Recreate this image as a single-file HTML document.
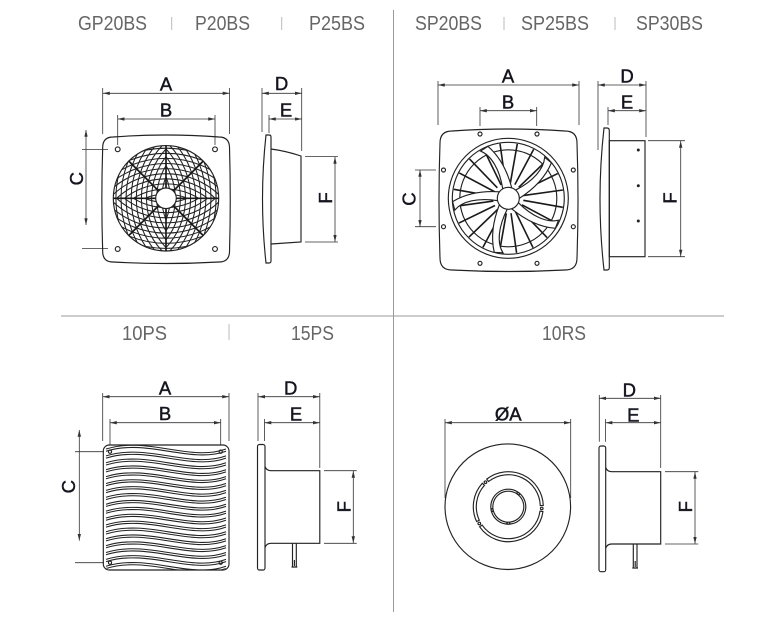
<!DOCTYPE html>
<html><head><meta charset="utf-8"><style>
html,body{margin:0;padding:0;background:#fff;}
svg{display:block;}
.h{font-family:"Liberation Sans",sans-serif;font-size:20px;fill:#666;text-anchor:middle;}
.l{font-family:"Liberation Sans",sans-serif;font-size:18.5px;fill:#15151f;stroke:#15151f;stroke-width:0.45;text-anchor:middle;}
.d{stroke:#333;stroke-width:0.8;fill:none;marker-start:url(#a);marker-end:url(#a);}
.e{stroke:#333;stroke-width:0.8;fill:none;}
.s{stroke:#222;stroke-width:1.15;fill:none;}
.w{stroke:#222;stroke-width:1.15;fill:#fff;}
.g{stroke:#222;stroke-width:1.05;fill:none;}
</style></head><body>
<svg width="777" height="624" viewBox="0 0 777 624" xmlns="http://www.w3.org/2000/svg">
<defs>
<marker id="a" viewBox="0 0 8 4" refX="8" refY="2" markerWidth="7" markerHeight="3.4" markerUnits="userSpaceOnUse" orient="auto-start-reverse"><path d="M0,0L8,2L0,4z" fill="#333"/></marker>
<clipPath id="cr"><path d="M166,145.6 A52.7 52.7 0 0 1 166,251 Z"/></clipPath>
<clipPath id="cl"><path d="M166,251 A52.7 52.7 0 0 1 166,145.6 Z"/></clipPath>
<clipPath id="ct"><path d="M113.3,198.3 A52.7 52.7 0 0 1 218.7,198.3 Z"/></clipPath>
<clipPath id="cb"><path d="M218.7,198.3 A52.7 52.7 0 0 1 113.3,198.3 Z"/></clipPath>
<clipPath id="pp"><rect x="104" y="445.5" width="124.5" height="124" rx="6"/></clipPath>
</defs>

<!-- dividers -->
<line x1="393.5" y1="10" x2="393.5" y2="612" stroke="#9a9a9a" stroke-width="1"/>
<line x1="61" y1="316" x2="724" y2="316" stroke="#9a9a9a" stroke-width="1"/>
<g stroke="#bbb" stroke-width="1">
<line x1="171.7" y1="17" x2="171.7" y2="30"/>
<line x1="281.7" y1="17" x2="281.7" y2="30"/>
<line x1="504" y1="17" x2="504" y2="30"/>
<line x1="615" y1="17" x2="615" y2="30"/>
<line x1="229" y1="324" x2="229" y2="340"/>
</g>

<!-- headers -->
<text class="h" x="112.5" y="30" textLength="69" lengthAdjust="spacingAndGlyphs">GP20BS</text>
<text class="h" x="222.5" y="30" textLength="55" lengthAdjust="spacingAndGlyphs">P20BS</text>
<text class="h" x="337" y="30" textLength="56" lengthAdjust="spacingAndGlyphs">P25BS</text>
<text class="h" x="448.5" y="30" textLength="67" lengthAdjust="spacingAndGlyphs">SP20BS</text>
<text class="h" x="555" y="30" textLength="68" lengthAdjust="spacingAndGlyphs">SP25BS</text>
<text class="h" x="669.5" y="30" textLength="67" lengthAdjust="spacingAndGlyphs">SP30BS</text>
<text class="h" x="144.5" y="340" textLength="45" lengthAdjust="spacingAndGlyphs">10PS</text>
<text class="h" x="312.5" y="340" textLength="43" lengthAdjust="spacingAndGlyphs">15PS</text>
<text class="h" x="564" y="340" textLength="44" lengthAdjust="spacingAndGlyphs">10RS</text>

<!-- ========== GP20BS ========== -->
<text class="l" x="166" y="90.7">A</text>
<line class="d" x1="103" y1="93.3" x2="229.5" y2="93.3"/>
<line class="e" x1="102.7" y1="88" x2="102.7" y2="134"/>
<line class="e" x1="229.5" y1="88" x2="229.5" y2="134"/>
<text class="l" x="166" y="116.7">B</text>
<line class="d" x1="117.7" y1="119" x2="215" y2="119"/>
<line class="e" x1="117.7" y1="115" x2="117.7" y2="145"/>
<line class="e" x1="215" y1="115" x2="215" y2="145"/>
<line class="d" x1="86" y1="130" x2="86" y2="225"/>
<line class="e" x1="82" y1="149.5" x2="108" y2="149.5"/>
<line class="e" x1="82" y1="248.5" x2="108" y2="248.5"/>
<text class="l" transform="translate(76.7,178.7) rotate(-90)" y="6.5">C</text>

<path class="s" d="M113,137 Q166,133 219,137 Q229,137 229.5,147 Q231,200 229.5,252 Q229,262 219,262 Q166,265 113,262 Q103,262 102.7,252 Q101,200 102.7,147 Q103,137 113,137 Z"/>
<g class="s" stroke-width="0.9">
<circle cx="117.7" cy="149.3" r="2.4"/><circle cx="215" cy="149.3" r="2.4"/>
<circle cx="117.7" cy="249" r="2.4"/><circle cx="215" cy="249" r="2.4"/>
</g>
<circle cx="166" cy="198.3" r="52.7" class="s"/>
<g class="g" clip-path="url(#cr)">
<circle cx="113.3" cy="198.3" r="56.9"/><circle cx="113.3" cy="198.3" r="62"/><circle cx="113.3" cy="198.3" r="67.1"/><circle cx="113.3" cy="198.3" r="72.2"/><circle cx="113.3" cy="198.3" r="77.3"/><circle cx="113.3" cy="198.3" r="82.4"/><circle cx="113.3" cy="198.3" r="87.5"/><circle cx="113.3" cy="198.3" r="92.6"/><circle cx="113.3" cy="198.3" r="97.7"/><circle cx="113.3" cy="198.3" r="102.8"/>
</g>
<g class="g" clip-path="url(#cl)">
<circle cx="218.7" cy="198.3" r="56.9"/><circle cx="218.7" cy="198.3" r="62"/><circle cx="218.7" cy="198.3" r="67.1"/><circle cx="218.7" cy="198.3" r="72.2"/><circle cx="218.7" cy="198.3" r="77.3"/><circle cx="218.7" cy="198.3" r="82.4"/><circle cx="218.7" cy="198.3" r="87.5"/><circle cx="218.7" cy="198.3" r="92.6"/><circle cx="218.7" cy="198.3" r="97.7"/><circle cx="218.7" cy="198.3" r="102.8"/>
</g>
<g class="g" clip-path="url(#cb)">
<circle cx="166" cy="145.6" r="56.9"/><circle cx="166" cy="145.6" r="62"/><circle cx="166" cy="145.6" r="67.1"/><circle cx="166" cy="145.6" r="72.2"/><circle cx="166" cy="145.6" r="77.3"/><circle cx="166" cy="145.6" r="82.4"/><circle cx="166" cy="145.6" r="87.5"/><circle cx="166" cy="145.6" r="92.6"/><circle cx="166" cy="145.6" r="97.7"/><circle cx="166" cy="145.6" r="102.8"/>
</g>
<g class="g" clip-path="url(#ct)">
<circle cx="166" cy="251" r="56.9"/><circle cx="166" cy="251" r="62"/><circle cx="166" cy="251" r="67.1"/><circle cx="166" cy="251" r="72.2"/><circle cx="166" cy="251" r="77.3"/><circle cx="166" cy="251" r="82.4"/><circle cx="166" cy="251" r="87.5"/><circle cx="166" cy="251" r="92.6"/><circle cx="166" cy="251" r="97.7"/><circle cx="166" cy="251" r="102.8"/>
</g>
<g stroke="#1a1a1a" stroke-width="1.7">
<line x1="113.3" y1="198.3" x2="218.7" y2="198.3"/>
<line x1="166" y1="145.6" x2="166" y2="251"/>
<line x1="128.7" y1="161" x2="203.3" y2="235.6"/>
<line x1="203.3" y1="161" x2="128.7" y2="235.6"/>
</g>
<circle cx="166" cy="198.3" r="10.3" class="w"/>

<!-- GP side -->
<text class="l" x="281.5" y="90">D</text>
<line class="d" x1="262" y1="93.3" x2="301.7" y2="93.3"/>
<line class="e" x1="262" y1="88" x2="262" y2="132"/>
<line class="e" x1="301.7" y1="88" x2="301.7" y2="151"/>
<text class="l" x="286" y="116.7">E</text>
<line class="d" x1="269" y1="119" x2="301.7" y2="119"/>
<line class="e" x1="269" y1="115" x2="269" y2="133"/>
<path class="s" d="M266,135 L269,135 Q271,135 271,137 L271,261 Q271,263 269,263 L266,263 Q259,199 266,135 Z"/>
<path class="s" d="M271,149 Q286,151 301,156 L301,242 Q286,243 271,244"/>
<line class="d" x1="335" y1="157" x2="335" y2="241.7"/>
<line class="e" x1="305" y1="156.5" x2="338" y2="156.5"/>
<line class="e" x1="305" y1="242" x2="338" y2="242"/>
<text class="l" transform="translate(325.5,198) rotate(-90)" y="6.5">F</text>

<!-- ========== SP20BS ========== -->
<text class="l" x="508" y="82.7">A</text>
<line class="d" x1="438" y1="85" x2="579" y2="85"/>
<line class="e" x1="438" y1="81" x2="438" y2="125"/>
<line class="e" x1="579" y1="81" x2="579" y2="125"/>
<text class="l" x="508" y="108.3">B</text>
<line class="d" x1="480" y1="110.7" x2="536.7" y2="110.7"/>
<line class="e" x1="480" y1="107" x2="480" y2="126"/>
<line class="e" x1="536.7" y1="107" x2="536.7" y2="126"/>
<line class="d" x1="420" y1="170" x2="420" y2="226.7"/>
<line class="e" x1="415" y1="170" x2="436" y2="170"/>
<line class="e" x1="415" y1="226.7" x2="436" y2="226.7"/>
<text class="l" transform="translate(409,199) rotate(-90)" y="6.5">C</text>

<path class="s" d="M452,131 Q508.5,127 565,131 Q577,131 577,143 Q579,200 577,258 Q577,270 565,270 Q508.5,273 452,270 Q440,270 440,258 Q438,200 440,143 Q440,131 452,131 Z"/>
<g class="s" stroke-width="0.9">
<circle cx="480" cy="134" r="2"/><circle cx="537" cy="134" r="2"/>
<circle cx="480" cy="263.3" r="2"/><circle cx="537" cy="263.3" r="2"/>
<circle cx="443.5" cy="170" r="2"/><circle cx="443.5" cy="226.7" r="2"/>
<circle cx="573.3" cy="170" r="2"/><circle cx="573.3" cy="226.7" r="2"/>
</g>
<circle cx="508.3" cy="198.3" r="60" class="s"/>
<circle cx="508.3" cy="198.3" r="56" class="s"/>
<circle cx="508.3" cy="198.3" r="48.5" class="s" stroke-width="0.7"/>
<g stroke="#1a1a1a" stroke-width="1.6">
<line x1="510.3" y1="183.3" x2="517.3" y2="143.8" transform="rotate(0 508.3 198.3)"/>
<line x1="510.3" y1="183.3" x2="517.3" y2="143.8" transform="rotate(18 508.3 198.3)"/>
<line x1="510.3" y1="183.3" x2="517.3" y2="143.8" transform="rotate(36 508.3 198.3)"/>
<line x1="510.3" y1="183.3" x2="517.3" y2="143.8" transform="rotate(54 508.3 198.3)"/>
<line x1="510.3" y1="183.3" x2="517.3" y2="143.8" transform="rotate(72 508.3 198.3)"/>
<line x1="510.3" y1="183.3" x2="517.3" y2="143.8" transform="rotate(90 508.3 198.3)"/>
<line x1="510.3" y1="183.3" x2="517.3" y2="143.8" transform="rotate(108 508.3 198.3)"/>
<line x1="510.3" y1="183.3" x2="517.3" y2="143.8" transform="rotate(126 508.3 198.3)"/>
<line x1="510.3" y1="183.3" x2="517.3" y2="143.8" transform="rotate(144 508.3 198.3)"/>
<line x1="510.3" y1="183.3" x2="517.3" y2="143.8" transform="rotate(162 508.3 198.3)"/>
<line x1="510.3" y1="183.3" x2="517.3" y2="143.8" transform="rotate(180 508.3 198.3)"/>
<line x1="510.3" y1="183.3" x2="517.3" y2="143.8" transform="rotate(198 508.3 198.3)"/>
<line x1="510.3" y1="183.3" x2="517.3" y2="143.8" transform="rotate(216 508.3 198.3)"/>
<line x1="510.3" y1="183.3" x2="517.3" y2="143.8" transform="rotate(234 508.3 198.3)"/>
<line x1="510.3" y1="183.3" x2="517.3" y2="143.8" transform="rotate(252 508.3 198.3)"/>
<line x1="510.3" y1="183.3" x2="517.3" y2="143.8" transform="rotate(270 508.3 198.3)"/>
<line x1="510.3" y1="183.3" x2="517.3" y2="143.8" transform="rotate(288 508.3 198.3)"/>
<line x1="510.3" y1="183.3" x2="517.3" y2="143.8" transform="rotate(306 508.3 198.3)"/>
<line x1="510.3" y1="183.3" x2="517.3" y2="143.8" transform="rotate(324 508.3 198.3)"/>
<line x1="510.3" y1="183.3" x2="517.3" y2="143.8" transform="rotate(342 508.3 198.3)"/>
</g>
<g class="w">
<path transform="translate(508.3,198.3) rotate(-9)" d="M-4,-10 C-4,-30 -10,-45 -20,-51 L-12,-54.5 C-4,-45 3,-30 5,-10 Z"/>
<path transform="translate(508.3,198.3) rotate(63)" d="M-4,-10 C-4,-30 -10,-45 -20,-51 L-12,-54.5 C-4,-45 3,-30 5,-10 Z"/>
<path transform="translate(508.3,198.3) rotate(135)" d="M-4,-10 C-4,-30 -10,-45 -20,-51 L-12,-54.5 C-4,-45 3,-30 5,-10 Z"/>
<path transform="translate(508.3,198.3) rotate(207)" d="M-4,-10 C-4,-30 -10,-45 -20,-51 L-12,-54.5 C-4,-45 3,-30 5,-10 Z"/>
<path transform="translate(508.3,198.3) rotate(279)" d="M-4,-10 C-4,-30 -10,-45 -20,-51 L-12,-54.5 C-4,-45 3,-30 5,-10 Z"/>
</g>
<circle cx="508.3" cy="198.3" r="11" class="w"/>

<!-- SP side -->
<text class="l" x="627" y="82.7">D</text>
<line class="d" x1="598" y1="85" x2="646" y2="85"/>
<line class="e" x1="598" y1="81" x2="598" y2="150"/>
<line class="e" x1="646" y1="81" x2="646" y2="137"/>
<text class="l" x="627" y="108.3">E</text>
<line class="d" x1="608" y1="110.7" x2="646" y2="110.7"/>
<line class="e" x1="608" y1="107" x2="608" y2="125"/>
<path class="s" d="M604,128 L607,128 Q609.3,128 609.3,130.5 L609.3,267.5 Q609.3,270 607,270 L604,270 Q596,199 604,128 Z"/>
<rect class="s" x="609.3" y="140.7" width="35.7" height="116"/>
<g fill="#222"><circle cx="638.3" cy="150" r="1.5"/><circle cx="638.3" cy="185.7" r="1.5"/><circle cx="638.3" cy="221" r="1.5"/></g>
<line class="d" x1="680.7" y1="141" x2="680.7" y2="256.5"/>
<line class="e" x1="648" y1="140.7" x2="685" y2="140.7"/>
<line class="e" x1="648" y1="256.7" x2="685" y2="256.7"/>
<text class="l" transform="translate(670,198) rotate(-90)" y="6.5">F</text>

<!-- ========== 10PS ========== -->
<text class="l" x="165" y="394.5">A</text>
<line class="d" x1="102.7" y1="396.7" x2="229" y2="396.7"/>
<line class="e" x1="102.7" y1="393" x2="102.7" y2="441"/>
<line class="e" x1="229" y1="393" x2="229" y2="441"/>
<text class="l" x="165" y="420">B</text>
<line class="d" x1="110" y1="422.7" x2="220.7" y2="422.7"/>
<line class="e" x1="110" y1="419" x2="110" y2="445"/>
<line class="e" x1="220.7" y1="419" x2="220.7" y2="445"/>
<line class="d" x1="79.3" y1="430" x2="79.3" y2="540.7"/>
<line class="e" x1="75" y1="451.7" x2="104" y2="451.7"/>
<line class="e" x1="75" y1="562.7" x2="104" y2="562.7"/>
<text class="l" transform="translate(68.3,486.7) rotate(-90)" y="6.5">C</text>

<rect class="s" x="103.3" y="445" width="125.7" height="125" rx="6"/>
<g class="g" clip-path="url(#pp)" stroke-width="1">
<path d="M106,449 C148,436 190,462 226,449 M106,451.2 C148,438.2 190,464.2 226,451.2"/>
<path d="M106,455.9 C148,442.9 190,468.9 226,455.9 M106,458.1 C148,445.1 190,471.1 226,458.1"/>
<path d="M106,462.8 C148,449.8 190,475.8 226,462.8 M106,465 C148,452 190,478 226,465"/>
<path d="M106,469.7 C148,456.7 190,482.7 226,469.7 M106,471.9 C148,458.9 190,484.9 226,471.9"/>
<path d="M106,476.6 C148,463.6 190,489.6 226,476.6 M106,478.8 C148,465.8 190,491.8 226,478.8"/>
<path d="M106,483.5 C148,470.5 190,496.5 226,483.5 M106,485.7 C148,472.7 190,498.7 226,485.7"/>
<path d="M106,490.4 C148,477.4 190,503.4 226,490.4 M106,492.6 C148,479.6 190,505.6 226,492.6"/>
<path d="M106,497.3 C148,484.3 190,510.3 226,497.3 M106,499.5 C148,486.5 190,512.5 226,499.5"/>
<path d="M106,504.2 C148,491.2 190,517.2 226,504.2 M106,506.4 C148,493.4 190,519.4 226,506.4"/>
<path d="M106,511.1 C148,498.1 190,524.1 226,511.1 M106,513.3 C148,500.3 190,526.3 226,513.3"/>
<path d="M106,518 C148,505 190,531 226,518 M106,520.2 C148,507.2 190,533.2 226,520.2"/>
<path d="M106,524.9 C148,511.9 190,537.9 226,524.9 M106,527.1 C148,514.1 190,540.1 226,527.1"/>
<path d="M106,531.8 C148,518.8 190,544.8 226,531.8 M106,534 C148,521 190,547 226,534"/>
<path d="M106,538.7 C148,525.7 190,551.7 226,538.7 M106,540.9 C148,527.9 190,553.9 226,540.9"/>
<path d="M106,545.6 C148,532.6 190,558.6 226,545.6 M106,547.8 C148,534.8 190,560.8 226,547.8"/>
<path d="M106,552.5 C148,539.5 190,565.5 226,552.5 M106,554.7 C148,541.7 190,567.7 226,554.7"/>
<path d="M106,559.4 C148,546.4 190,572.4 226,559.4 M106,561.6 C148,548.6 190,574.6 226,561.6"/>
<path d="M106,566.3 C148,553.3 190,579.3 226,566.3 M106,568.5 C148,555.5 190,581.5 226,568.5"/>
</g>
<g class="s" stroke-width="0.8">
<circle cx="110" cy="451.7" r="1.6"/><circle cx="220.7" cy="451.7" r="1.6"/>
<circle cx="110" cy="562.7" r="1.6"/><circle cx="220.7" cy="562.7" r="1.6"/>
</g>

<!-- 10PS side -->
<text class="l" x="290.7" y="394.5">D</text>
<line class="d" x1="258.3" y1="396.7" x2="319.8" y2="396.7"/>
<line class="e" x1="258" y1="393" x2="258" y2="441"/>
<line class="e" x1="319.8" y1="393" x2="319.8" y2="468"/>
<text class="l" x="296" y="420.7">E</text>
<line class="d" x1="264.5" y1="422.7" x2="319.8" y2="422.7"/>
<line class="e" x1="264.5" y1="419" x2="264.5" y2="441"/>
<rect class="s" x="257.5" y="444.5" width="7.5" height="125.5" rx="2"/>
<path class="s" d="M265,466.5 Q266.5,470.7 271,470.7 L319.8,470.7 L319.8,543.3 L271,543.3 Q266.5,543.3 265,547.5"/>
<path class="s" stroke-width="0.8" d="M292.5,543.3 L292.5,567 M296.3,543.3 L296.3,567 M291.5,567 L297.3,567 M294.4,560 L294.4,566"/>
<line class="d" x1="353.3" y1="471" x2="353.3" y2="543"/>
<line class="e" x1="324" y1="470.7" x2="356.7" y2="470.7"/>
<line class="e" x1="324" y1="543.3" x2="356.7" y2="543.3"/>
<text class="l" transform="translate(344,506.7) rotate(-90)" y="6.5">F</text>

<!-- ========== 10RS ========== -->
<text class="l" x="508.3" y="420.5">ØA</text>
<line class="d" x1="445" y1="422.7" x2="570.7" y2="422.7"/>
<line class="e" x1="445" y1="419" x2="445" y2="498"/>
<line class="e" x1="570.7" y1="419" x2="570.7" y2="498"/>
<circle class="s" cx="507.8" cy="506.7" r="62.8"/>
<g class="s" stroke-width="0.9">
<path d="M542.96,511.57 A35 35 0 0 1 479.63,526.78 L482.09,525.06 A32 32 0 0 0 539.99,511.15 Z"/>
<path d="M476.58,521.49 A35 35 0 0 1 482.29,483.28 L484.52,485.29 A32 32 0 0 0 479.30,520.22 Z"/>
<path d="M486.75,479.12 A35 35 0 0 1 543.28,505.48 L540.28,505.58 A32 32 0 0 0 488.60,481.48 Z"/>
<circle cx="541.75" cy="508.45" r="1.3"/><circle cx="479.29" cy="523.45" r="1.3"/><circle cx="485.45" cy="482.2" r="1.3"/>
<path d="M506.77,524.13 A17.5 17.5 0 0 1 491.56,511.82 L493.48,511.23 A15.5 15.5 0 0 0 506.95,522.14 Z"/>
<path d="M490.93,508.83 A17.5 17.5 0 0 1 517.57,491.86 L516.51,493.56 A15.5 15.5 0 0 0 492.92,508.59 Z"/>
<path d="M520.01,493.70 A17.5 17.5 0 0 1 509.83,524.13 L509.65,522.14 A15.5 15.5 0 0 0 518.67,495.18 Z"/>
<circle cx="508.3" cy="523.2" r="1.1"/><circle cx="492.16" cy="510.13" r="1.1"/><circle cx="518.23" cy="493.52" r="1.1"/>
</g>

<!-- 10RS side -->
<text class="l" x="629.3" y="396.5">D</text>
<line class="d" x1="599.3" y1="398.3" x2="660.7" y2="398.3"/>
<line class="e" x1="599.3" y1="395" x2="599.3" y2="441.7"/>
<line class="e" x1="660.7" y1="395" x2="660.7" y2="468"/>
<text class="l" x="633.3" y="421.5">E</text>
<line class="d" x1="605.5" y1="422.7" x2="660.7" y2="422.7"/>
<line class="e" x1="605.5" y1="419" x2="605.5" y2="441.7"/>
<rect class="s" x="599" y="446" width="6.7" height="125.7" rx="2"/>
<path class="s" d="M605.7,467.5 Q607.2,471.7 611.7,471.7 L660.7,471.7 L660.7,544 L611.7,544 Q607.2,544 605.7,548.2"/>
<path class="s" stroke-width="0.8" d="M633.3,544 L633.3,568 M637,544 L637,568 M632.3,568 L638,568 M635.2,561 L635.2,567"/>
<line class="d" x1="695" y1="472" x2="695" y2="543.7"/>
<line class="e" x1="665" y1="471.7" x2="698.3" y2="471.7"/>
<line class="e" x1="665" y1="544" x2="698.3" y2="544"/>
<text class="l" transform="translate(685.7,506.7) rotate(-90)" y="6.5">F</text>
</svg>
</body></html>
